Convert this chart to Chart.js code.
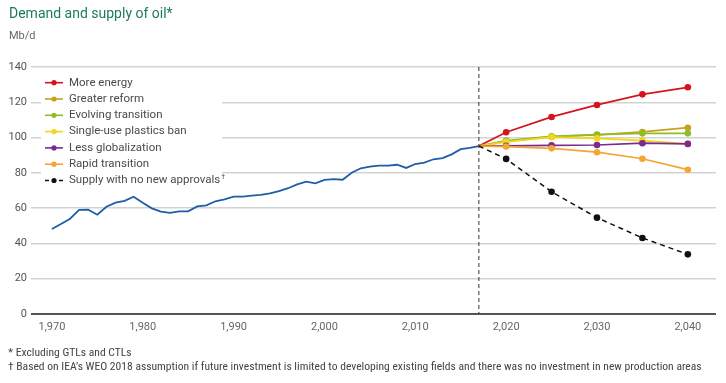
<!DOCTYPE html>
<html><head><meta charset="utf-8">
<script src="https://cdn.jsdelivr.net/npm/chart.js@4.4.1/dist/chart.umd.min.js"></script>
<style>
html,body{margin:0;padding:0;background:#fff;width:726px;height:383px;overflow:hidden;position:relative;font-family:Roboto,"Liberation Sans",sans-serif;}
#wrap{position:absolute;left:0;top:0;width:726px;height:383px;}
#title{position:absolute;left:9px;top:5px;font-size:14px;color:#1b7a62;white-space:nowrap;}
#unit{position:absolute;left:9px;top:29px;font-size:11px;color:#666;}
.fn{position:absolute;left:8px;font-family:"Liberation Sans Narrow","Roboto Condensed","Liberation Sans",sans-serif;font-size:11.6px;color:#444;white-space:nowrap;}
</style></head>
<body>
<div id="wrap"><canvas id="c" width="726" height="383"></canvas></div>
<div id="title">Demand and supply of oil*</div>
<div id="unit">Mb/d</div>
<div class="fn" id="fn1" style="top:345px">* Excluding GTLs and CTLs</div>
<div class="fn" id="fn2" style="top:359px">† Based on IEA’s WEO 2018 assumption if future investment is limited to developing existing fields and there was no investment in new production areas</div>
<script>
const historyYears = [1970,1971,1972,1973,1974,1975,1976,1977,1978,1979,1980,1981,1982,1983,1984,1985,1986,1987,1988,1989,1990,1991,1992,1993,1994,1995,1996,1997,1998,1999,2000,2001,2002,2003,2004,2005,2006,2007,2008,2009,2010,2011,2012,2013,2014,2015,2016,2017];
const historyValues = [48.2,51.0,54.0,59.0,59.1,56.3,60.8,63.1,64.1,66.5,63.1,59.9,58.0,57.3,58.2,58.2,61.0,61.6,63.9,65.0,66.5,66.5,67.1,67.5,68.4,69.7,71.3,73.5,75.0,74.1,76.0,76.4,76.1,80.1,82.6,83.5,84.1,84.1,84.6,82.8,85.0,85.8,87.7,88.4,90.5,93.4,94.1,95.2];

const scenarioYears = [2017,2020,2025,2030,2035,2040];
const moreEnergy        = [95.2,103.0,111.7,118.5,124.5,128.5];
const greaterReform     = [95.2,97.8,100.5,101.5,103.2,105.6];
const evolvingTransition= [95.2,98.3,100.7,101.7,102.4,102.4];
const singleUsePlastics = [95.2,97.6,100.3,99.6,98.3,96.4];
const lessGlobalization = [95.2,95.3,95.6,95.8,96.8,96.4];
const rapidTransition   = [95.2,94.9,93.9,91.7,88.0,81.8];
const noNewApprovals    = [95.2,87.9,69.3,54.6,43.1,33.8];

const scenarioLabels = ['More energy','Greater reform','Evolving transition','Single-use plastics ban','Less globalization','Rapid transition','Supply with no new approvals†'];
const scenarioColors = ['#d7141e','#c9a21c','#8cbd2a','#f6d516','#7a2b8e','#f5a534','#111111'];
const scenarioSeries = [moreEnergy,greaterReform,evolvingTransition,singleUsePlastics,lessGlobalization,rapidTransition,noNewApprovals];
const xTicks = [1970,1980,1990,2000,2010,2020,2030,2040];
const yTicks = [0,20,40,60,80,100,120,140];
const dividerYear = 2017;

const pts = (xs, ys) => xs.map((x,i)=>({x:x,y:ys[i]}));

const datasets = scenarioSeries.map((s,i)=>({
  label: scenarioLabels[i],
  data: pts(scenarioYears, s),
  borderColor: scenarioColors[i],
  backgroundColor: scenarioColors[i],
  borderWidth: i===6 ? 1.5 : 1.7,
  borderDash: i===6 ? [5,4] : [],
  pointRadius: ctx => ctx.dataIndex===0 ? 0 : 3.3,
  pointHoverRadius: 0,
  pointBorderWidth: 0,
  tension: 0,
  order: 7-i,
  isScenario: true
}));
datasets.push({
  label: 'History',
  data: pts(historyYears, historyValues),
  borderColor: '#1f5ea6',
  borderWidth: 1.8,
  pointRadius: 0,
  tension: 0,
  order: 10
});

const insideLegend = {
  id: 'insideLegend',
  afterDraw(chart){
    const c = chart.ctx;
    c.save();
    c.fillStyle = '#fff';
    c.fillRect(41, 73, 181, 117);
    chart.data.datasets.forEach((d,i)=>{
      if(!d.isScenario) return;
      const y = 82.7 + i*16.3;
      c.strokeStyle = d.borderColor;
      c.lineWidth = 1.6;
      c.setLineDash(d.borderDash && d.borderDash.length ? [4,3] : []);
      c.beginPath(); c.moveTo(45,y); c.lineTo(63,y); c.stroke();
      c.setLineDash([]);
      c.fillStyle = d.borderColor;
      c.beginPath(); c.arc(54,y,2.6,0,Math.PI*2); c.fill();
      c.fillStyle = '#4a4a4a';
      c.font = '11.5px Roboto, "Liberation Sans", sans-serif';
      c.textBaseline = 'middle';
      const lbl = d.label;
      if(lbl.endsWith('†')){
        const base = lbl.slice(0,-1);
        c.fillText(base, 69, y);
        const w = c.measureText(base).width;
        c.font = '7px Roboto, sans-serif';
        c.fillText('†', 69+w+1, y-3);
      } else {
        c.fillText(lbl, 69, y);
      }
    });
    const xs = chart.scales.x, ys = chart.scales.y;
    const px = xs.getPixelForValue(dividerYear);
    c.strokeStyle = '#333'; c.lineWidth = 1; c.setLineDash([4,3]);
    c.beginPath(); c.moveTo(px, ys.getPixelForValue(140)); c.lineTo(px, ys.getPixelForValue(0)); c.stroke();
    c.restore();
  }
};

new Chart(document.getElementById('c'), {
  type: 'line',
  data: { datasets: datasets },
  options: {
    responsive: false,
    animation: false,
    events: [],
    layout: { padding: { top: 67, right: 10, left: 0, bottom: 0 } },
    plugins: { legend: { display: false }, tooltip: { enabled: false }, title: { display: false } },
    scales: {
      x: {
        type: 'linear', min: 1967.7, max: 2043.1,
        afterBuildTicks: s => { s.ticks = xTicks.map(v=>({value:v})); },
        afterFit: s => { s.height = 69; },
        grid: { display: false, drawTicks: false },
        border: { display: false },
        ticks: { color: '#666', font: { size: 11, family: 'Roboto' }, padding: 7, maxRotation: 0 }
      },
      y: {
        min: 0, max: 140,
        afterBuildTicks: s => { s.ticks = yTicks.map(v=>({value:v})); },
        afterFit: s => { s.width = 31; },
        grid: {
          drawTicks: false,
          color: ctx => ctx.tick && ctx.tick.value===0 ? '#555' : '#d3d3d3',
          lineWidth: ctx => ctx.tick && ctx.tick.value===0 ? 2 : 1.4
        },
        border: { display: false },
        ticks: { color: '#555', font: { size: 11, family: 'Roboto' }, padding: 4 }
      }
    }
  },
  plugins: [insideLegend]
});
</script>
</body></html>
